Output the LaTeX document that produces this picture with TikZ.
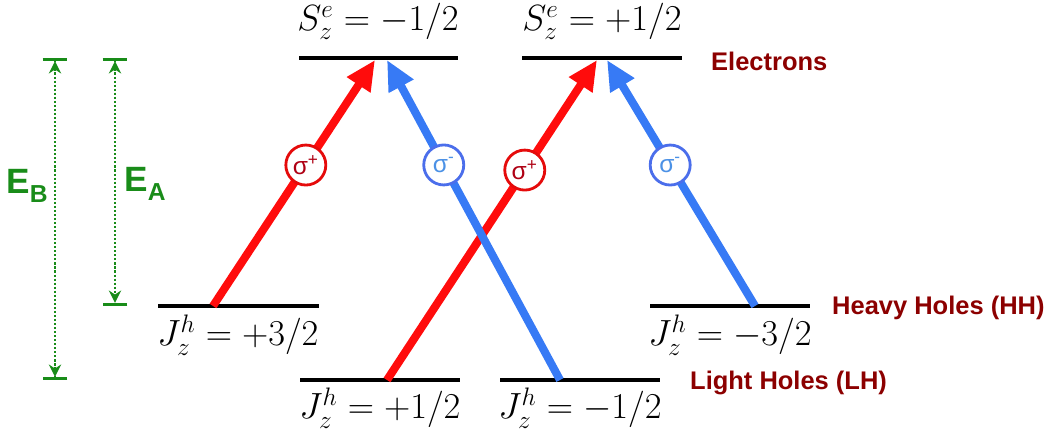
\documentclass[tikz,border=0pt]{standalone}
\usepackage{fontspec}
\newfontfamily\labelsf{Liberation Sans}
\usetikzlibrary{arrows.meta}
\definecolor{redarrow}{RGB}{255,12,12}
\definecolor{bluearrow}{RGB}{55,122,245}
\definecolor{sigred}{RGB}{175,0,20}
\definecolor{sigblue}{RGB}{75,145,230}
\definecolor{ringblue}{RGB}{75,110,235}
\definecolor{labelred}{RGB}{140,0,0}
\definecolor{egreen}{RGB}{25,140,25}
\newcommand\esub[1]{\raisebox{-0.45ex}{\fontsize{14}{14}\selectfont #1}}
\begin{document}
\begin{tikzpicture}[x=0.02cm, y=-0.02cm,
  level/.style={line width=2.3pt},
  trans/.style={line width=4.6pt, -{Triangle[length=17pt,width=15pt]}},
  pol/.style={circle, draw, fill=white, line width=1.6pt, minimum size=0.8cm, inner sep=0pt,
    font=\labelsf\fontsize{14}{14}\selectfont},
  spin/.style={anchor=base, inner sep=0.5pt, font=\fontsize{22}{24}\selectfont},
  band/.style={anchor=west, text=labelred, font=\labelsf\bfseries\fontsize{14.5}{16}\selectfont},
  gap/.style={egreen, line width=1.4pt, dash pattern=on 1.2pt off 1.1pt,
    {Bar[width=14pt,line width=1.8pt]Stealth[length=7pt,width=7pt]}-{Stealth[length=7pt,width=7pt]Bar[width=14pt,line width=1.8pt]}},
  elabel/.style={text=egreen, font=\labelsf\bfseries\fontsize{20}{22}\selectfont},
  ]
  \useasboundingbox (0,0) rectangle (1054,431);
  % levels
  \draw[level] (299,58) -- (458,58);
  \draw[level] (522,58) -- (682,58);
  \draw[level] (158,306) -- (319,306);
  \draw[level] (650,306) -- (810,306);
  \draw[level] (300,380) -- (460,380);
  \draw[level] (500,380) -- (660,380);
  \node[spin] (sm) at (378,31) {$S_z^e=-1/2$};
  \node[spin] (sp) at (602,31) {$S_z^e=+1/2$};
  \node[spin] (jhp) at (238,346) {$J_z^h=+3/2$};
  \node[spin] (jhm) at (730,346) {$J_z^h=-3/2$};
  \node[spin] (jlp) at (380,419) {$J_z^h=+1/2$};
  \node[spin] (jlm) at (580,419) {$J_z^h=-1/2$};
  \node[band] (elec) at (705,61) {Electrons};
  \node[band] (hh) at (826,308) {Heavy Holes (HH)};
  \node[band] (lh) at (684,383) {Light Holes (LH)};
  % transitions
  \coordinate (hp) at (213,306);
  \coordinate (hm) at (755,306);
  \coordinate (lp) at (387,380);
  \coordinate (lm) at (560,380);
  \coordinate (em1) at (375,60);
  \coordinate (em2) at (387,60);
  \coordinate (ep1) at (597,60);
  \coordinate (ep2) at (607,60);
  \draw[trans, redarrow] (hp) -- node[pol, pos=0.573, draw=redarrow!90!black, text=sigred] (s1) {σ\textsuperscript{+}} (em1);
  \draw[trans, bluearrow] (hm) -- node[pol, pos=0.573, draw=ringblue, text=sigblue] (s4) {σ\textsuperscript{-}} (ep2);
  \draw[trans, redarrow] (lp) -- node[pol, pos=0.656, draw=redarrow!90!black, text=sigred] (s3) {σ\textsuperscript{+}} (ep1);
  \draw[trans, bluearrow] (lm) -- node[pol, pos=0.672, draw=ringblue, text=sigblue] (s2) {σ\textsuperscript{-}} (em2);
  % binding energies
  \coordinate (bt) at (55,58);
  \coordinate (bb) at (55,380);
  \coordinate (at) at (115,58);
  \coordinate (ab) at (115,306);
  \draw[gap] (bt) -- (bb);
  \draw[gap] (at) -- (ab);
  \node[elabel] (eb) at (27,186) {E\esub{B}};
  \node[elabel] (ea) at (145,184) {E\esub{A}};
\end{tikzpicture}
\end{document}
